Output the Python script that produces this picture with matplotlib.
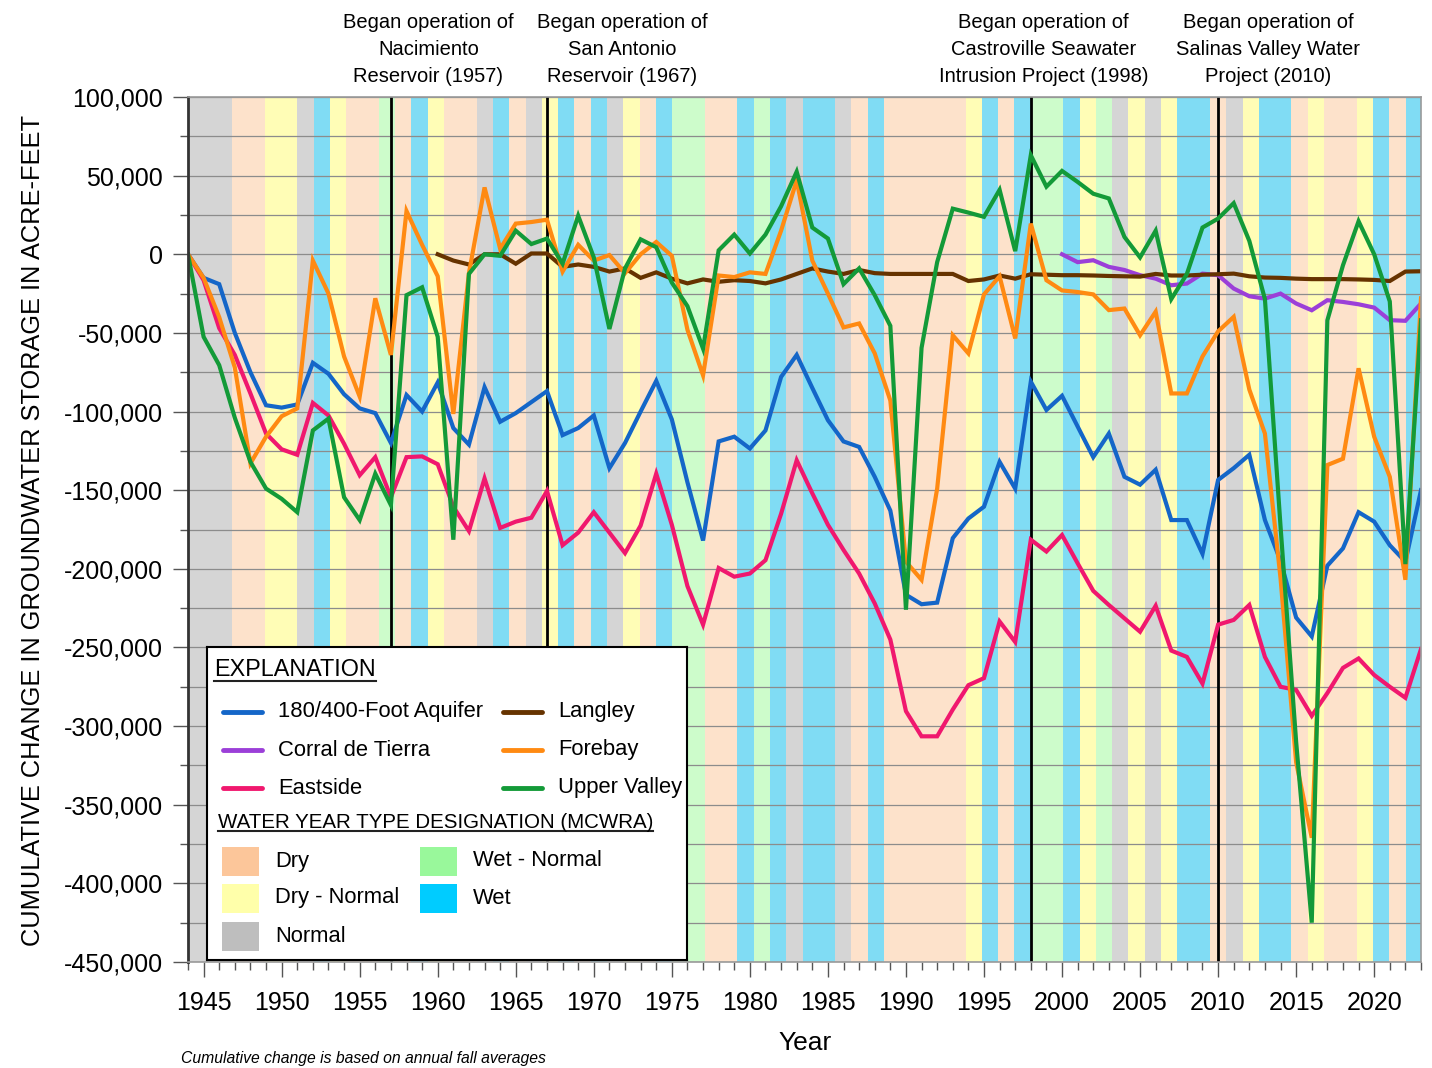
import matplotlib
matplotlib.use('Agg')
import matplotlib.pyplot as plt
from matplotlib.patches import Rectangle
from matplotlib.ticker import MultipleLocator, FuncFormatter

plt.rcParams['font.family'] = ['Liberation Sans', 'DejaVu Sans']

# cumulative change in storage (acre-feet), fall averages
years = list(range(1944, 2024))

aquifer_180_400 = [
    0, -15000, -19000, -50000, -75000, -96000, -97500, -95500, -69000, -76000,
    -89000, -98000, -101000, -120000, -89500, -100000, -81500, -110500, -121000, -84500,
    -106500, -101000, -94000, -87000, -115000, -110500, -102500, -136000, -120000, -100000,
    -80500, -105000, -145000, -182000, -119000, -116000, -123500, -112000, -78000, -64000,
    -85000, -105500, -119000, -122500, -141500, -163000, -216500, -222500, -221500, -180500,
    -168000, -160500, -132000, -149000, -81000, -99000, -90000, -109500, -129000, -114000,
    -141500, -146500, -137000, -169000, -169000, -190500, -143500, -136000, -127500, -169000,
    -195000, -231000, -243000, -198000, -187000, -164000, -170000, -185000, -195500, -150000,
]

eastside = [
    0, -16500, -47000, -64000, -88500, -114000, -124000, -127500, -94500, -102500,
    -120500, -140500, -129000, -154500, -129000, -128500, -133500, -160500, -176000, -142500,
    -174000, -170000, -167500, -150500, -185000, -177000, -164000, -177000, -190000, -172500,
    -139500, -172000, -211000, -235500, -199500, -205000, -203000, -194500, -165000, -131000,
    -152000, -172000, -188000, -203000, -222000, -245000, -290500, -306500, -306500, -289500,
    -274000, -269500, -233500, -246500, -181500, -189000, -178500, -196500, -214000, -223000,
    -231500, -240000, -223500, -252000, -256000, -273000, -235500, -232500, -223000, -256000,
    -275000, -277000, -293500, -279000, -263000, -257000, -267500, -275000, -282000, -251000,
]

forebay = [
    0, -15000, -40000, -72000, -133000, -116000, -103000, -98000, -4000, -25000,
    -65000, -90500, -28000, -64000, 27500, 6000, -14000, -101500, -12000, 42500,
    3500, 19500, 20500, 22000, -11000, 6000, -4000, -500, -12000, 0,
    7800, -1000, -48000, -77000, -13500, -14500, -11500, -12500, 15000, 47000,
    -4000, -25000, -46500, -44000, -63000, -93000, -195500, -207000, -149000, -51500,
    -63000, -25500, -14000, -53500, 19500, -16500, -23000, -24000, -25500, -35500,
    -34500, -51500, -36500, -88500, -88500, -65000, -49000, -39800, -86000, -114000,
    -206000, -323000, -371000, -134000, -130000, -72500, -116000, -141500, -207000, -28000,
]

upper_valley = [
    0, -52500, -70500, -104000, -132000, -149000, -155500, -164000, -112000, -104500,
    -154500, -169000, -139500, -159500, -26000, -21000, -52500, -181500, -12500, 0,
    -1000, 15000, 6500, 10000, -6000, 24500, -2000, -47500, -9000, 9500,
    4500, -18000, -33000, -60000, 2500, 12500, 500, 12500, 30500, 52500,
    17000, 10000, -19000, -9000, -26000, -45500, -226000, -59500, -5000, 29000,
    26500, 23800, 41000, 2000, 63000, 43000, 53000, 46000, 38500, 35500,
    11000, -2000, 15000, -28500, -12500, 17000, 22700, 32500, 8500, -28500,
    -173000, -310000, -425000, -42000, -7000, 21000, 0, -30000, -197000, -42000,
]

langley_years = list(range(1960, 2024))
langley = [
    0, -4000, -6500, 0, 0, -6000, 500, 500, -8000, -6500,
    -8000, -11000, -9000, -15000, -11500, -15500, -18500, -16000, -17500, -16500,
    -17000, -18500, -16000, -12500, -9000, -11000, -12500, -10000, -12000, -12500,
    -12500, -12500, -12500, -12500, -17000, -16000, -13500, -15500, -12700, -13000,
    -13300, -13300, -13500, -13800, -14000, -14200, -12500, -13500, -13500, -13000,
    -12700, -12300, -14000, -14800, -15000, -15500, -15800, -15800, -15800, -16000,
    -16300, -17000, -11000, -10800,
]

corral_years = list(range(2000, 2024))
corral_de_tierra = [
    0, -5000, -3800, -8000, -10000, -13300, -15500, -19700, -18600, -12300,
    -13300, -21800, -26700, -28200, -25000, -31300, -35600, -29200, -30300, -31800,
    -33900, -41900, -42300, -31300,
]

# water year type bands (MCWRA), in order from the left edge
band_types = [
    'N', 'N', 'N', 'D', 'D', 'DN', 'DN', 'N', 'W', 'DN',
    'D', 'D', 'WN', 'D', 'W', 'DN', 'D', 'D', 'N', 'W',
    'D', 'N', 'DN', 'W', 'D', 'W', 'N', 'DN', 'D', 'W',
    'WN', 'WN', 'D', 'D', 'W', 'WN', 'W', 'N', 'W', 'W',
    'N', 'D', 'W', 'D', 'D', 'D', 'D', 'D', 'DN', 'W',
    'D', 'W', 'WN', 'WN', 'W', 'DN', 'WN', 'N', 'DN', 'N',
    'DN', 'W', 'W', 'D', 'N', 'DN', 'W', 'W', 'D', 'DN',
    'D', 'D', 'DN', 'W', 'D', 'W',
]

band_colors = {'D': '#fde2cb', 'DN': '#fffdb6', 'N': '#d5d5d5', 'WN': '#cdfccb', 'W': '#80dcf4'}
patch_colors = {'D': '#fcc69a', 'DN': '#ffffaa', 'N': '#bebebe', 'WN': '#99f89b', 'W': '#00ccff'}
type_names = {'D': 'Dry', 'DN': 'Dry - Normal', 'N': 'Normal', 'WN': 'Wet - Normal', 'W': 'Wet'}

event_years = [1957, 1967, 1998, 2010]
event_text_x = [1959.4, 1971.8, 1998.8, 2013.2]
event_labels = [
    'Began operation of\nNacimiento\nReservoir (1957)',
    'Began operation of\nSan Antonio\nReservoir (1967)',
    'Began operation of\nCastroville Seawater\nIntrusion Project (1998)',
    'Began operation of\nSalinas Valley Water\nProject (2010)',
]

series = [
    ('180/400-Foot Aquifer', years, aquifer_180_400, '#1466c8'),
    ('Corral de Tierra', corral_years, corral_de_tierra, '#9b3fd8'),
    ('Eastside', years, eastside, '#f0186e'),
    ('Langley', langley_years, langley, '#663300'),
    ('Forebay', years, forebay, '#ff8a12'),
    ('Upper Valley', years, upper_valley, '#139a38'),
]

W, H = 1432, 1068
fig = plt.figure(figsize=(W / 100, H / 100), dpi=100)
rect = [188 / W, 1 - 962 / H, (1421 - 188) / W, (962 - 97) / H]

# background bands live on their own axis underneath
axb = fig.add_axes(rect)
for i, t in enumerate(band_types):
    axb.axvspan(i, i + 1, color=band_colors[t], lw=0)
axb.set_xlim(0.29, 75.95)
axb.set_ylim(0, 1)
axb.axis('off')

ax = fig.add_axes(rect)
ax.set_facecolor('none')
ax.set_xlim(1944, 2023)
ax.set_ylim(-450000, 100000)

ax.yaxis.set_major_locator(MultipleLocator(50000))
ax.yaxis.set_minor_locator(MultipleLocator(25000))
ax.xaxis.set_major_locator(MultipleLocator(5))
ax.xaxis.set_minor_locator(MultipleLocator(1))
ax.yaxis.set_major_formatter(FuncFormatter(lambda v, p: f'{int(v):,}'))
ax.set_xticks(range(1945, 2021, 5))

ax.grid(axis='y', which='both', color='#8c8c8c', lw=0.9)
ax.set_axisbelow(True)

ax.tick_params(which='major', direction='out', length=11, width=1.0, color='#555555', labelsize=18)
ax.tick_params(which='minor', direction='out', length=6, width=1.0, color='#555555')
ax.tick_params(axis='y', pad=7)
ax.tick_params(axis='x', pad=10)

for s in ['top', 'right', 'bottom']:
    ax.spines[s].set_color('#9a9a9a')
    ax.spines[s].set_linewidth(1.2)
ax.spines['left'].set_color('#333333')
ax.spines['left'].set_linewidth(2)

for yr in event_years:
    ax.axvline(yr, color='black', lw=2, zorder=1.5)

for name, xs, ys, c in series:
    ax.plot(xs, ys, color=c, lw=3, solid_joinstyle='miter', zorder=2)

for x, lab in zip(event_text_x, event_labels):
    ax.text(x, 1.013, lab, transform=ax.get_xaxis_transform(), ha='center', va='bottom',
            fontsize=14.5, linespacing=1.52)

fig.text(33 / W, 1 - 530 / H, 'CUMULATIVE CHANGE IN GROUNDWATER STORAGE IN ACRE-FEET',
         rotation=90, ha='center', va='center', fontsize=18.3)
fig.text(805 / W, 1 - 1043 / H, 'Year', ha='center', va='center', fontsize=19)
fig.text(181 / W, 1 - 1058 / H, 'Cumulative change is based on annual fall averages',
         ha='left', va='center', fontsize=11.3, style='italic')

# explanation box
lg = fig.add_axes([207 / W, 1 - 960 / H, 480 / W, 313 / H])
lg.set_zorder(5)
lg.set_facecolor('white')
lg.set_xlim(0, 480)
lg.set_ylim(313, 0)
lg.set_xticks([])
lg.set_yticks([])
for s in lg.spines.values():
    s.set_color('black')
    s.set_linewidth(1.5)

heads = [
    lg.text(7, 23, 'EXPLANATION', fontsize=16.8, va='center'),
    lg.text(11, 175, 'WATER YEAR TYPE DESIGNATION (MCWRA)', fontsize=14.8, va='center'),
]

row_y = [65, 103, 141]
for k, (name, xs, ys, c) in enumerate(series):
    col, row = divmod(k, 3)
    x0 = 16 + col * 280
    lg.plot([x0, x0 + 39], [row_y[row]] * 2, color=c, lw=3.5, solid_capstyle='round')
    lg.text(x0 + 55, row_y[row], name, fontsize=15.8, va='center')

patch_y = [214, 251, 289]
for k, t in enumerate(['D', 'DN', 'N', 'WN', 'W']):
    col, row = divmod(k, 3)
    x0 = 15 + col * 198
    lg.add_patch(Rectangle((x0, patch_y[row] - 14.5), 37, 29, color=patch_colors[t], lw=0))
    lg.text(x0 + 53, patch_y[row], type_names[t], fontsize=15.8, va='center')

fig.canvas.draw()
r = fig.canvas.get_renderer()
inv = lg.transData.inverted()
for t in heads:
    bb = t.get_window_extent(r).transformed(inv)
    yb = max(bb.y0, bb.y1) - 1
    lg.plot([bb.x0, bb.x1], [yb, yb], color='#222222', lw=1.5)

fig.savefig('out.png', dpi=100)
